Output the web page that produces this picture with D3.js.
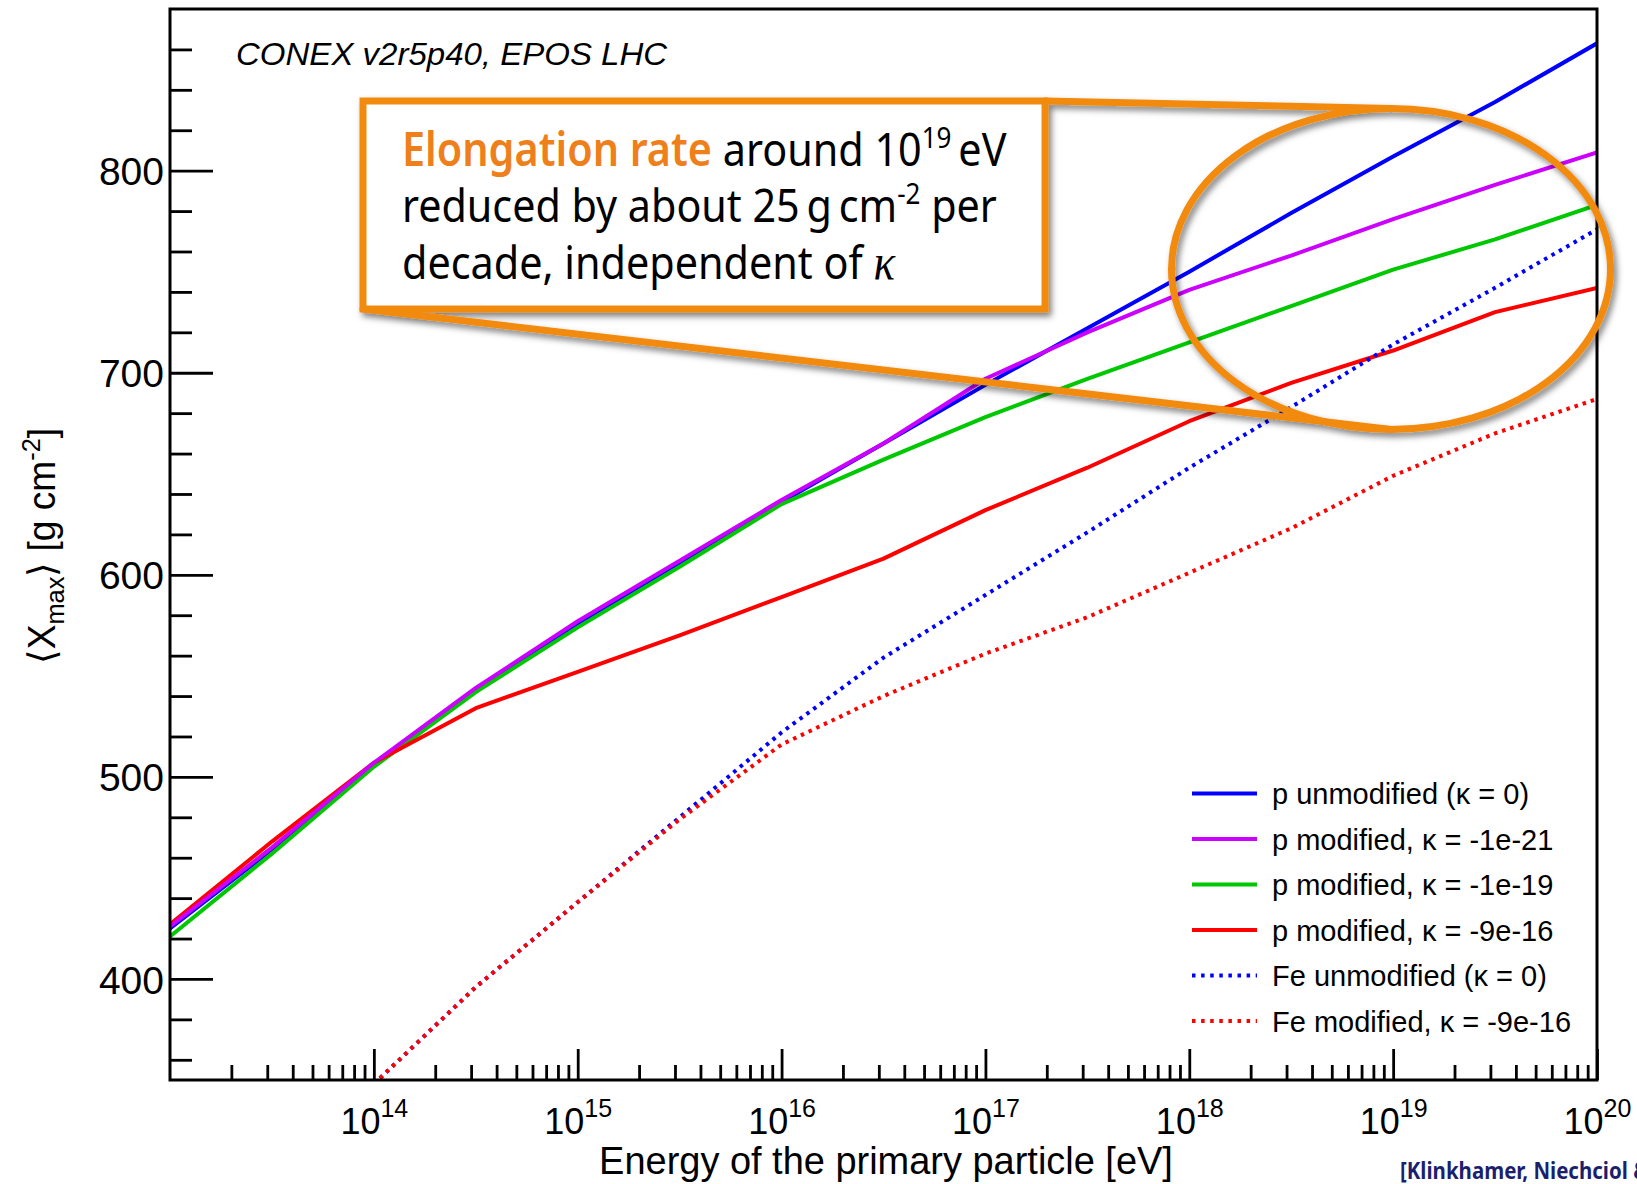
<!DOCTYPE html>
<html>
<head>
<meta charset="utf-8">
<script src="https://cdn.jsdelivr.net/npm/d3@7"></script>
<style>
  body { margin: 0; background: #fff; }
  svg { display: block; }
</style>
</head>
<body>
<svg id="chart" width="1637" height="1184"></svg>
<script>
// Mean depth of shower maximum versus primary energy (CONEX, EPOS LHC)

// log10(E / eV) at which the proton showers were simulated
const protonExponents = [13, 13.5, 14, 14.5, 15, 15.5, 16, 16.5, 17, 17.5, 18, 18.5, 19, 19.5, 20];
// <Xmax> in g cm^-2
const pUnmodified = [425, 464, 506, 543, 576, 606, 636, 665, 694, 722, 750, 779, 807, 834, 863];
const pKappa21    = [426, 465, 507, 544, 577, 607, 637, 665, 697, 720, 741, 758, 776, 793, 809];
const pKappa19    = [421, 462, 505, 542, 574, 604, 635, 657, 678, 697, 715, 733, 751, 766, 783];
const pKappa16    = [427, 468, 507, 534, 552, 570, 589, 608, 632, 653, 676, 695, 711, 730, 742];

// iron primaries (first visible point sits on the lower edge)
const ironExponents = [14, 14.5, 15, 15.5, 16, 16.5, 17, 17.5, 18, 18.5, 19, 19.5, 20];
const feUnmodified  = [348, 396, 438, 480, 522, 559, 590, 621, 653, 683, 714, 742, 771];
const feKappa16     = [348, 396, 438, 479, 516, 540, 561, 579, 601, 623, 649, 670, 687];

const legendLabels = [
  "p unmodified (\u03ba = 0)",
  "p modified, \u03ba = -1e-21",
  "p modified, \u03ba = -1e-19",
  "p modified, \u03ba = -9e-16",
  "Fe unmodified (\u03ba = 0)",
  "Fe modified, \u03ba = -9e-16"
];
const seriesColors = ["#0000ff", "#cc00ff", "#00c800", "#ff0000", "#0000ff", "#ff0000"];

const yMajorTicks = [400, 500, 600, 700, 800];
const xMajorExponents = [14, 15, 16, 17, 18, 19, 20];

const ORANGE = "#f28a10";

const svg = d3.select("#chart");
const plot = { left: 170, right: 1597, top: 9, bottom: 1080 };

const x = d3.scaleLog().domain([1e13, 1e20]).range([plot.left, plot.right]);
const y = d3.scaleLinear().domain([350, 880]).range([plot.bottom, plot.top]);

// ---- series --------------------------------------------------------------
const series = [
  { exps: protonExponents, vals: pUnmodified, color: seriesColors[0], dotted: false },
  { exps: protonExponents, vals: pKappa19,    color: seriesColors[2], dotted: false },
  { exps: protonExponents, vals: pKappa16,    color: seriesColors[3], dotted: false },
  { exps: protonExponents, vals: pKappa21,    color: seriesColors[1], dotted: false },
  { exps: ironExponents,   vals: feUnmodified, color: seriesColors[4], dotted: true },
  { exps: ironExponents,   vals: feKappa16,    color: seriesColors[5], dotted: true }
];

svg.append("defs").call(defs => {
  defs.append("clipPath").attr("id", "plot-clip")
    .append("rect")
    .attr("x", plot.left).attr("y", plot.top)
    .attr("width", plot.right - plot.left).attr("height", plot.bottom - plot.top);
  const f = defs.append("filter").attr("id", "shadow")
    .attr("x", "-10%").attr("y", "-10%").attr("width", "130%").attr("height", "140%");
  f.append("feDropShadow")
    .attr("dx", 3).attr("dy", 4).attr("stdDeviation", 3)
    .attr("flood-color", "#000").attr("flood-opacity", 0.5);
});

const line = d3.line()
  .x(d => x(Math.pow(10, d[0])))
  .y(d => y(d[1]));

const curves = svg.append("g").attr("clip-path", "url(#plot-clip)");
series.forEach(s => {
  curves.append("path")
    .datum(d3.zip(s.exps, s.vals))
    .attr("d", line)
    .attr("fill", "none")
    .attr("stroke", s.color)
    .attr("stroke-width", 4)
    .attr("stroke-linejoin", "round")
    .attr("stroke-dasharray", s.dotted ? "3.5,5" : null);
});

// ---- axes ----------------------------------------------------------------
const tickFont = "'Liberation Sans', Arial, Helvetica, sans-serif";

const yMinor = d3.range(360, 880, 20).filter(v => !yMajorTicks.includes(v));
svg.append("g")
  .attr("transform", `translate(${plot.left},0)`)
  .call(d3.axisLeft(y).tickValues(yMinor).tickSize(-22).tickFormat(""))
  .call(g => g.select(".domain").remove())
  .call(g => g.selectAll("line").attr("stroke", "#000").attr("stroke-width", 2.8));

svg.append("g")
  .attr("transform", `translate(${plot.left},0)`)
  .call(d3.axisLeft(y).tickValues(yMajorTicks).tickSize(-43).tickPadding(6).tickFormat(d3.format("d")))
  .call(g => g.select(".domain").remove())
  .call(g => g.selectAll("line").attr("stroke", "#000").attr("stroke-width", 2.8))
  .call(g => g.selectAll("text")
    .attr("font-family", tickFont).attr("font-size", 39).attr("fill", "#000")
    .attr("dy", "0.36em"));

const xMinor = [];
for (let e = 13; e < 20; e++) for (let m = 2; m <= 9; m++) xMinor.push(m * Math.pow(10, e));
svg.append("g")
  .attr("transform", `translate(0,${plot.bottom})`)
  .call(d3.axisBottom(x).tickValues(xMinor).tickSize(-15).tickFormat(""))
  .call(g => g.select(".domain").remove())
  .call(g => g.selectAll("line").attr("stroke", "#000").attr("stroke-width", 2.8));

svg.append("g")
  .attr("transform", `translate(0,${plot.bottom})`)
  .call(d3.axisBottom(x).tickValues(xMajorExponents.map(e => Math.pow(10, e))).tickSize(-31).tickPadding(27))
  .call(g => g.select(".domain").remove())
  .call(g => g.selectAll("line").attr("stroke", "#000").attr("stroke-width", 2.8))
  .call(g => g.selectAll("text").each(function (d, i) {
    const t = d3.select(this)
      .text(null)
      .attr("font-family", tickFont).attr("font-size", 36).attr("fill", "#000")
      .attr("dy", null).attr("y", 54);
    t.append("tspan").text("10");
    t.append("tspan").attr("font-size", 25).attr("dy", -17).text(xMajorExponents[i]);
  }));

// frame
svg.append("rect")
  .attr("x", plot.left).attr("y", plot.top)
  .attr("width", plot.right - plot.left).attr("height", plot.bottom - plot.top)
  .attr("fill", "none").attr("stroke", "#000").attr("stroke-width", 3);

// helper: squeeze/stretch a text horizontally to a target width
function fitWidth(text, x0, y0, width, rotate) {
  const w = text.node().getBBox().width;
  const s = width / w;
  text.attr("x", 0).attr("y", 0)
    .attr("transform", `translate(${x0},${y0})${rotate ? ` rotate(${rotate})` : ""} scale(${s},1)`);
}

// axis titles
const xTitle = svg.append("text")
  .attr("font-family", tickFont).attr("font-size", 38).attr("text-anchor", "middle")
  .text("Energy of the primary particle [eV]");
fitWidth(xTitle, 886, 1174, 574);

const yTitle = svg.append("text")
  .attr("font-family", tickFont).attr("font-size", 38).attr("text-anchor", "middle");
yTitle.append("tspan").text("\u27e8X");
yTitle.append("tspan").attr("font-size", 26).attr("dy", 9).text("max");
yTitle.append("tspan").attr("dy", -9).text("\u27e9 [g cm");
yTitle.append("tspan").attr("font-size", 26).attr("dy", -15).text("-2");
yTitle.append("tspan").attr("dy", 15).text("]");
fitWidth(yTitle, 55, 546, 236, -90);

// model label
const model = svg.append("text")
  .attr("font-family", tickFont).attr("font-size", 31).attr("font-style", "italic")
  .text("CONEX v2r5p40, EPOS LHC");
fitWidth(model, 236, 65, 432);

// ---- legend --------------------------------------------------------------
const legend = svg.append("g");
legendLabels.forEach((label, i) => {
  const ly = 793.5 + i * 45.5;
  legend.append("line")
    .attr("x1", 1192).attr("x2", 1257).attr("y1", ly).attr("y2", ly)
    .attr("stroke", seriesColors[i]).attr("stroke-width", 4)
    .attr("stroke-dasharray", i >= 4 ? "3.5,5.6" : null);
  legend.append("text")
    .attr("x", 1272).attr("y", ly + 10.5)
    .attr("font-family", tickFont).attr("font-size", 29).attr("fill", "#000")
    .text(label);
});

// ---- callout -------------------------------------------------------------
const callout = svg.append("g").attr("filter", "url(#shadow)");
callout.append("path")
  .attr("d", "M1045,101 L1391,108.5 M363,309 L1391,429.5")
  .attr("fill", "none").attr("stroke", ORANGE).attr("stroke-width", 7)
  .attr("stroke-linecap", "round");
callout.append("ellipse")
  .attr("cx", 1391).attr("cy", 269).attr("rx", 219.5).attr("ry", 160.5)
  .attr("fill", "none").attr("stroke", ORANGE).attr("stroke-width", 7);
callout.append("rect")
  .attr("x", 363).attr("y", 101).attr("width", 682).attr("height", 208)
  .attr("fill", "#fff").attr("stroke", ORANGE).attr("stroke-width", 7);

const boxFont = "'Noto Sans', 'Open Sans', sans-serif";
const boxLines = svg.append("g").attr("font-family", boxFont).attr("font-size", 46).attr("fill", "#000");

const l1 = boxLines.append("text");
l1.append("tspan").attr("fill", "#ef7f1a").attr("font-weight", 600).text("Elongation rate");
l1.append("tspan").text(" around 10");
l1.append("tspan").attr("font-size", 29).attr("dy", -18).text("19");
l1.append("tspan").attr("dy", 18).text("\u2009eV");
fitWidth(l1, 402, 166, 605);

const l2 = boxLines.append("text");
l2.append("tspan").text("reduced by about 25\u2009g\u2009cm");
l2.append("tspan").attr("font-size", 29).attr("dy", -18).text("-2");
l2.append("tspan").attr("dy", 18).text(" per");
fitWidth(l2, 402, 222, 595);

const l3 = boxLines.append("text");
l3.append("tspan").text("decade, independent of ");
l3.append("tspan").attr("font-family", "'Liberation Serif', 'DejaVu Serif', serif")
  .attr("font-style", "italic").attr("font-size", 50).text("\u03ba");
fitWidth(l3, 402, 279, 494);

// ---- reference -----------------------------------------------------------
const ref = svg.append("text")
  .attr("font-family", boxFont).attr("font-weight", 700).attr("font-size", 24)
  .attr("fill", "#1b1f6e")
  .text("[Klinkhamer, Niechciol & Risse]");
{
  const w = ref.node().getSubStringLength(0, 22);
  ref.attr("transform", `translate(1400,1179) scale(${228 / w},1)`);
}
</script>
</body>
</html>
